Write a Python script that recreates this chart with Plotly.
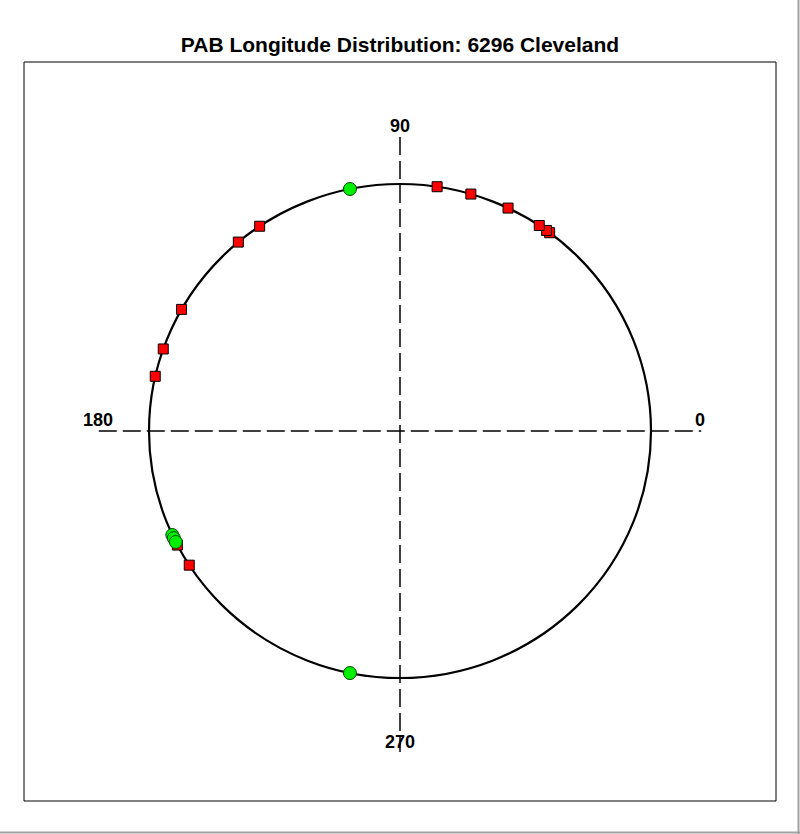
import numpy as np
import plotly.graph_objects as go

# Longitude values (degrees)
red_angles = [53.4, 54.3, 56.3, 64.5, 73.6, 81.5, 124.0, 130.1, 150.5, 160.6, 167.2, 207.5, 212.9]
green_angles = [101.5, 204.9, 205.7, 206.7, 258.5]
axis_labels = ["0", "90", "180", "270"]

title = "PAB Longitude Distribution: 6296 Cleveland"
FONT = "Liberation Sans, Arial, sans-serif"

ra = np.deg2rad(red_angles)
ga = np.deg2rad(green_angles)

fig = go.Figure()

# dashed cross-hair axes
fig.add_trace(go.Scatter(x=[-1.2, 1.2], y=[0, 0], mode="lines",
                         line=dict(color="black", width=1.5, dash="18px,6px"),
                         hoverinfo="skip", showlegend=False))
fig.add_trace(go.Scatter(x=[0, 0], y=[1.19, -1.30], mode="lines",
                         line=dict(color="black", width=1.5, dash="18px,6px"),
                         hoverinfo="skip", showlegend=False))

fig.add_trace(go.Scatter(x=np.cos(ra), y=np.sin(ra), mode="markers",
                         marker=dict(symbol="square", size=10, color="#FF0000",
                                     line=dict(color="black", width=1)),
                         showlegend=False))
fig.add_trace(go.Scatter(x=np.cos(ga), y=np.sin(ga), mode="markers",
                         marker=dict(symbol="circle", size=13, color="#00EE00",
                                     line=dict(color="#004400", width=1)),
                         showlegend=False))

shapes = [
    dict(type="circle", xref="x", yref="y", x0=-1, x1=1, y0=-1, y1=1,
         line=dict(color="black", width=2.2), layer="below"),
    dict(type="rect", xref="paper", yref="paper", x0=0, x1=1, y0=0, y1=1,
         line=dict(color="black", width=1)),
    dict(type="line", xref="paper", yref="paper", x0=1.0299, x1=1.0299, y0=-0.045, y1=1.09,
         line=dict(color="#A0A0A0", width=2)),
    dict(type="line", xref="paper", yref="paper", x0=-0.04, x1=1.04, y0=-0.0426, y1=-0.0426,
         line=dict(color="#A0A0A0", width=2)),
]

label_pos = {"0": (1.195, 0.045), "90": (0, 1.235), "180": (-1.203, 0.045), "270": (0, -1.259)}
annotations = [dict(x=label_pos[t][0], y=label_pos[t][1], xref="x", yref="y", text=t,
                    showarrow=False, xanchor="center", yanchor="middle",
                    font=dict(family=FONT, size=18, color="black", weight="bold"))
               for t in axis_labels]

fig.update_layout(
    width=800, height=834,
    margin=dict(l=24, r=24, t=62, b=33),
    paper_bgcolor="white", plot_bgcolor="white",
    title=dict(text=title, x=0.5, xanchor="center", y=1 - 45 / 834, yanchor="middle",
               font=dict(family=FONT, size=21, color="black", weight="bold")),
    xaxis=dict(range=[-1.498, 1.498], visible=False, fixedrange=True),
    yaxis=dict(range=[-1.498, 1.494], visible=False, fixedrange=True),
    shapes=shapes,
    annotations=annotations,
)

fig.write_html("out.html")
